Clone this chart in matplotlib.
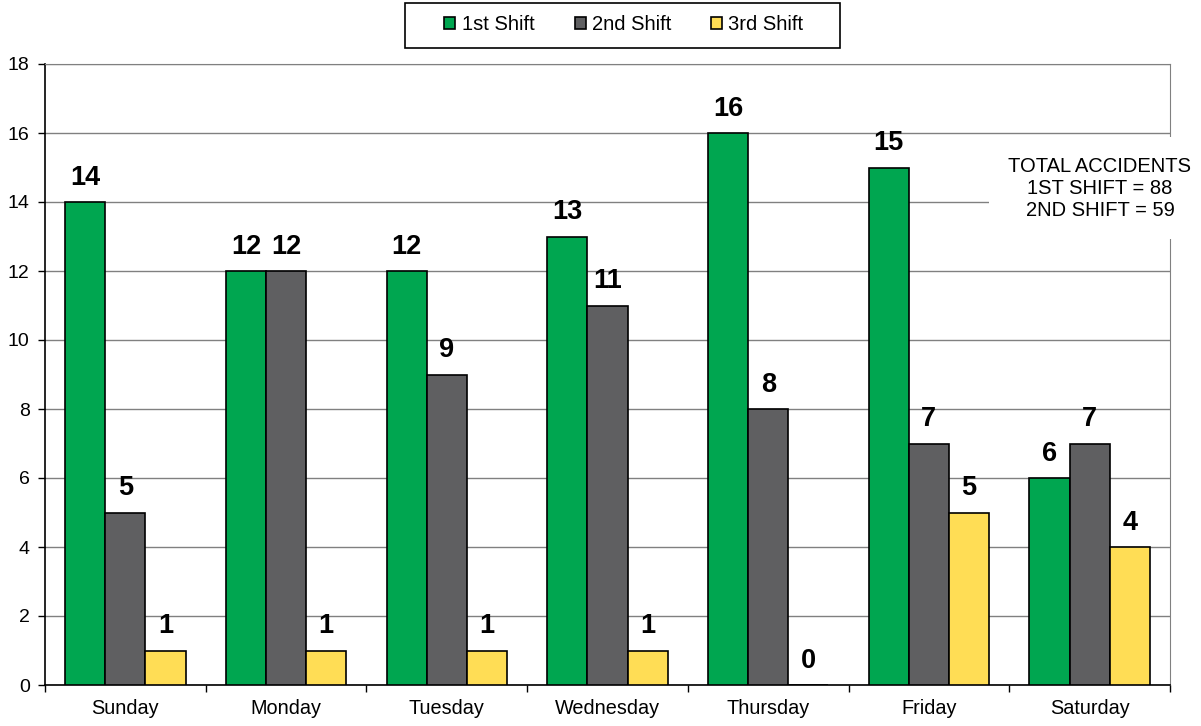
import matplotlib
matplotlib.use("Agg")
from matplotlib import pyplot as plt
from matplotlib.patches import Rectangle
import numpy as np

plt.rcParams['font.family'] = ['Liberation Sans', 'DejaVu Sans']

days = ["Sunday", "Monday", "Tuesday", "Wednesday", "Thursday", "Friday", "Saturday"]
first_shift = [14, 12, 12, 13, 16, 15, 6]
second_shift = [5, 12, 9, 11, 8, 7, 7]
third_shift = [1, 1, 1, 1, 0, 5, 4]
shift_names = ["1st Shift", "2nd Shift", "3rd Shift"]
shift_colors = ["#00A650", "#5F5F61", "#FFDD55"]
note = "TOTAL ACCIDENTS\n1ST SHIFT = 88\n2ND SHIFT = 59"

fig = plt.figure(figsize=(12.01, 7.26), dpi=100)
ax = fig.add_axes([45 / 1201, 41 / 726, 1125 / 1201, 621 / 726])

x = np.arange(len(days))
w = 0.25
for k, (vals, name, col) in enumerate(zip([first_shift, second_shift, third_shift],
                                           shift_names, shift_colors)):
    bars = ax.bar(x + (k - 1) * w, vals, w, color=col, edgecolor='black',
                  linewidth=1.2, label=name, zorder=3)
    for b, v in zip(bars, vals):
        ax.annotate(str(v), (b.get_x() + b.get_width() / 2, v),
                    xytext=(0, 8), textcoords='offset points',
                    ha='center', va='bottom', fontsize=19.5, fontweight='bold')

ax.set_xlim(-0.5, len(days) - 0.5)
ax.set_ylim(0, 18)
ax.set_yticks(np.arange(0, 19, 2))
ax.set_xticks(x)
ax.set_xticklabels(days, fontsize=14.3)
ax.set_xticks(np.arange(-0.5, len(days), 1), minor=True)
ax.tick_params(axis='x', which='major', length=0, pad=10)
ax.tick_params(axis='x', which='minor', length=5, width=1, direction='out')
ax.tick_params(axis='y', labelsize=14, length=5, width=1, direction='out', pad=6)
ax.grid(axis='y', color='#808080', linewidth=1, zorder=0)
ax.set_axisbelow(True)

for s in ['top', 'right']:
    ax.spines[s].set_color('#808080')
for s in ['left', 'bottom']:
    ax.spines[s].set_color('black')
    ax.spines[s].set_linewidth(1.2)

# total accidents note, white box covering grid
fig.text(1100 / 1201, 1 - 188 / 726, note, ha='center', va='center',
         fontsize=14.5, linespacing=1.2, zorder=5,
         bbox=dict(facecolor='white', edgecolor='none', pad=14))

leg = fig.legend(loc='center', bbox_to_anchor=(624 / 1201, 1 - 25 / 726),
                 ncol=3, frameon=False, fontsize=14.5, handlelength=0.55,
                 handleheight=0.55, handletextpad=0.3, columnspacing=2.0)
fig.patches.append(Rectangle((405 / 1201, 1 - 48 / 726), 435 / 1201, 45 / 726,
                             transform=fig.transFigure, fill=False,
                             edgecolor='black', linewidth=1.2))

fig.savefig("out.png", dpi=100)
